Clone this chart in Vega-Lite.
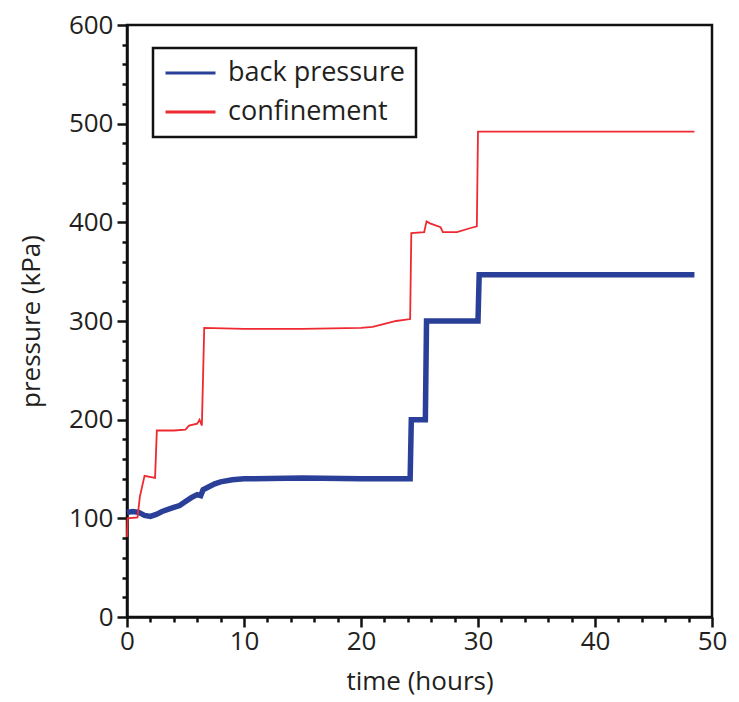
{
  "$schema": "https://vega.github.io/schema/vega-lite/v6.json",
  "width": 585,
  "height": 592,
  "autosize": "none",
  "padding": {"left": 127, "top": 25, "right": 27, "bottom": 85},
  "background": "white",
  "config": {
    "font": "Open Sans",
    "view": {"stroke": "#111111", "strokeWidth": 2.5}
  },
  "data": {
    "values": [
      {"t": 0, "p": 106, "s": "back pressure"},
      {"t": 0.5, "p": 107, "s": "back pressure"},
      {"t": 1.0, "p": 106, "s": "back pressure"},
      {"t": 1.5, "p": 103, "s": "back pressure"},
      {"t": 2.0, "p": 102, "s": "back pressure"},
      {"t": 2.5, "p": 104, "s": "back pressure"},
      {"t": 3.0, "p": 107, "s": "back pressure"},
      {"t": 3.5, "p": 109, "s": "back pressure"},
      {"t": 4.0, "p": 111, "s": "back pressure"},
      {"t": 4.5, "p": 113, "s": "back pressure"},
      {"t": 5.0, "p": 117, "s": "back pressure"},
      {"t": 5.5, "p": 121, "s": "back pressure"},
      {"t": 6.0, "p": 124, "s": "back pressure"},
      {"t": 6.3, "p": 123, "s": "back pressure"},
      {"t": 6.5, "p": 129, "s": "back pressure"},
      {"t": 7.0, "p": 132, "s": "back pressure"},
      {"t": 7.5, "p": 135, "s": "back pressure"},
      {"t": 8.0, "p": 137, "s": "back pressure"},
      {"t": 9.0, "p": 139, "s": "back pressure"},
      {"t": 10, "p": 140, "s": "back pressure"},
      {"t": 15, "p": 141, "s": "back pressure"},
      {"t": 20, "p": 140, "s": "back pressure"},
      {"t": 24.2, "p": 140, "s": "back pressure"},
      {"t": 24.3, "p": 200, "s": "back pressure"},
      {"t": 25.5, "p": 200, "s": "back pressure"},
      {"t": 25.6, "p": 300, "s": "back pressure"},
      {"t": 30.0, "p": 300, "s": "back pressure"},
      {"t": 30.1, "p": 347, "s": "back pressure"},
      {"t": 40, "p": 347, "s": "back pressure"},
      {"t": 48.5, "p": 347, "s": "back pressure"},
      {"t": 0, "p": 81, "s": "confinement"},
      {"t": 0.05, "p": 100, "s": "confinement"},
      {"t": 0.9, "p": 101, "s": "confinement"},
      {"t": 1.1, "p": 122, "s": "confinement"},
      {"t": 1.5, "p": 143, "s": "confinement"},
      {"t": 2.4, "p": 141, "s": "confinement"},
      {"t": 2.55, "p": 189, "s": "confinement"},
      {"t": 4.0, "p": 189, "s": "confinement"},
      {"t": 5.0, "p": 190, "s": "confinement"},
      {"t": 5.3, "p": 194, "s": "confinement"},
      {"t": 6.0, "p": 196, "s": "confinement"},
      {"t": 6.2, "p": 200, "s": "confinement"},
      {"t": 6.4, "p": 194, "s": "confinement"},
      {"t": 6.6, "p": 293, "s": "confinement"},
      {"t": 10, "p": 292, "s": "confinement"},
      {"t": 15, "p": 292, "s": "confinement"},
      {"t": 20, "p": 293, "s": "confinement"},
      {"t": 21, "p": 294, "s": "confinement"},
      {"t": 22, "p": 297, "s": "confinement"},
      {"t": 23, "p": 300, "s": "confinement"},
      {"t": 24.2, "p": 302, "s": "confinement"},
      {"t": 24.3, "p": 389, "s": "confinement"},
      {"t": 25.4, "p": 390, "s": "confinement"},
      {"t": 25.6, "p": 401, "s": "confinement"},
      {"t": 25.9, "p": 399, "s": "confinement"},
      {"t": 26.8, "p": 395, "s": "confinement"},
      {"t": 27.0, "p": 390, "s": "confinement"},
      {"t": 28.2, "p": 390, "s": "confinement"},
      {"t": 29.3, "p": 394, "s": "confinement"},
      {"t": 29.9, "p": 396, "s": "confinement"},
      {"t": 30.0, "p": 492, "s": "confinement"},
      {"t": 40, "p": 492, "s": "confinement"},
      {"t": 48.5, "p": 492, "s": "confinement"}
    ]
  },
  "encoding": {
    "x": {
      "field": "t",
      "type": "quantitative",
      "scale": {"domain": [0, 50], "nice": false, "zero": false},
      "axis": {
        "title": "time (hours)",
        "values": [0, 2, 4, 6, 8, 10, 12, 14, 16, 18, 20, 22, 24, 26, 28, 30, 32, 34, 36, 38, 40, 42, 44, 46, 48, 50],
        "labelExpr": "datum.value % 10 === 0 ? datum.label : ''",
        "grid": false,
        "domainColor": "#111111",
        "domainWidth": 2.5,
        "tickColor": "#111111",
        "tickWidth": 2.5,
        "tickSize": {"condition": {"test": "datum.value % 10 === 0", "value": 10}, "value": 5},
        "labelFontSize": 26,
        "labelColor": "#231f20",
        "labelPadding": 1,
        "labelFlush": false,
        "titleFontSize": 26,
        "titleFontWeight": "normal",
        "titleColor": "#231f20",
        "titlePadding": 14
      }
    },
    "y": {
      "field": "p",
      "type": "quantitative",
      "scale": {"domain": [0, 600], "nice": false},
      "axis": {
        "title": "pressure (kPa)",
        "values": [0, 20, 40, 60, 80, 100, 120, 140, 160, 180, 200, 220, 240, 260, 280, 300, 320, 340, 360, 380, 400, 420, 440, 460, 480, 500, 520, 540, 560, 580, 600],
        "labelExpr": "datum.value % 100 === 0 ? datum.label : ''",
        "grid": false,
        "domainColor": "#111111",
        "domainWidth": 2.5,
        "tickColor": "#111111",
        "tickWidth": 2.5,
        "tickSize": {"condition": {"test": "datum.value % 100 === 0", "value": 10}, "value": 5},
        "labelFontSize": 26,
        "labelColor": "#231f20",
        "labelPadding": 4,
        "labelFlush": false,
        "titleFontSize": 26,
        "titleFontWeight": "normal",
        "titleColor": "#231f20",
        "titlePadding": 24
      }
    },
    "color": {
      "field": "s",
      "type": "nominal",
      "scale": {"domain": ["back pressure", "confinement"], "range": ["#2a3f98", "#ee2a30"]},
      "legend": {
        "title": null,
        "orient": "none",
        "legendX": 26,
        "legendY": 23,
        "strokeColor": "#111111",
        "padding": 11,
        "symbolType": "stroke",
        "symbolSize": 2500,
        "symbolStrokeWidth": 3,
        "labelFontSize": 27,
        "labelLimit": 400,
        "labelColor": "#231f20",
        "labelOffset": 11,
        "clipHeight": 28,
        "rowPadding": 11,
        "fillColor": "white",
        "encode": {
          "legend": {"update": {"strokeWidth": {"value": 2.5}}}
        }
      }
    }
  },
  "layer": [
    {
      "transform": [{"filter": "datum.s === 'back pressure'"}],
      "mark": {"type": "line", "strokeWidth": 5.5}
    },
    {
      "transform": [{"filter": "datum.s === 'confinement'"}],
      "mark": {"type": "line", "strokeWidth": 1.8}
    }
  ]
}
